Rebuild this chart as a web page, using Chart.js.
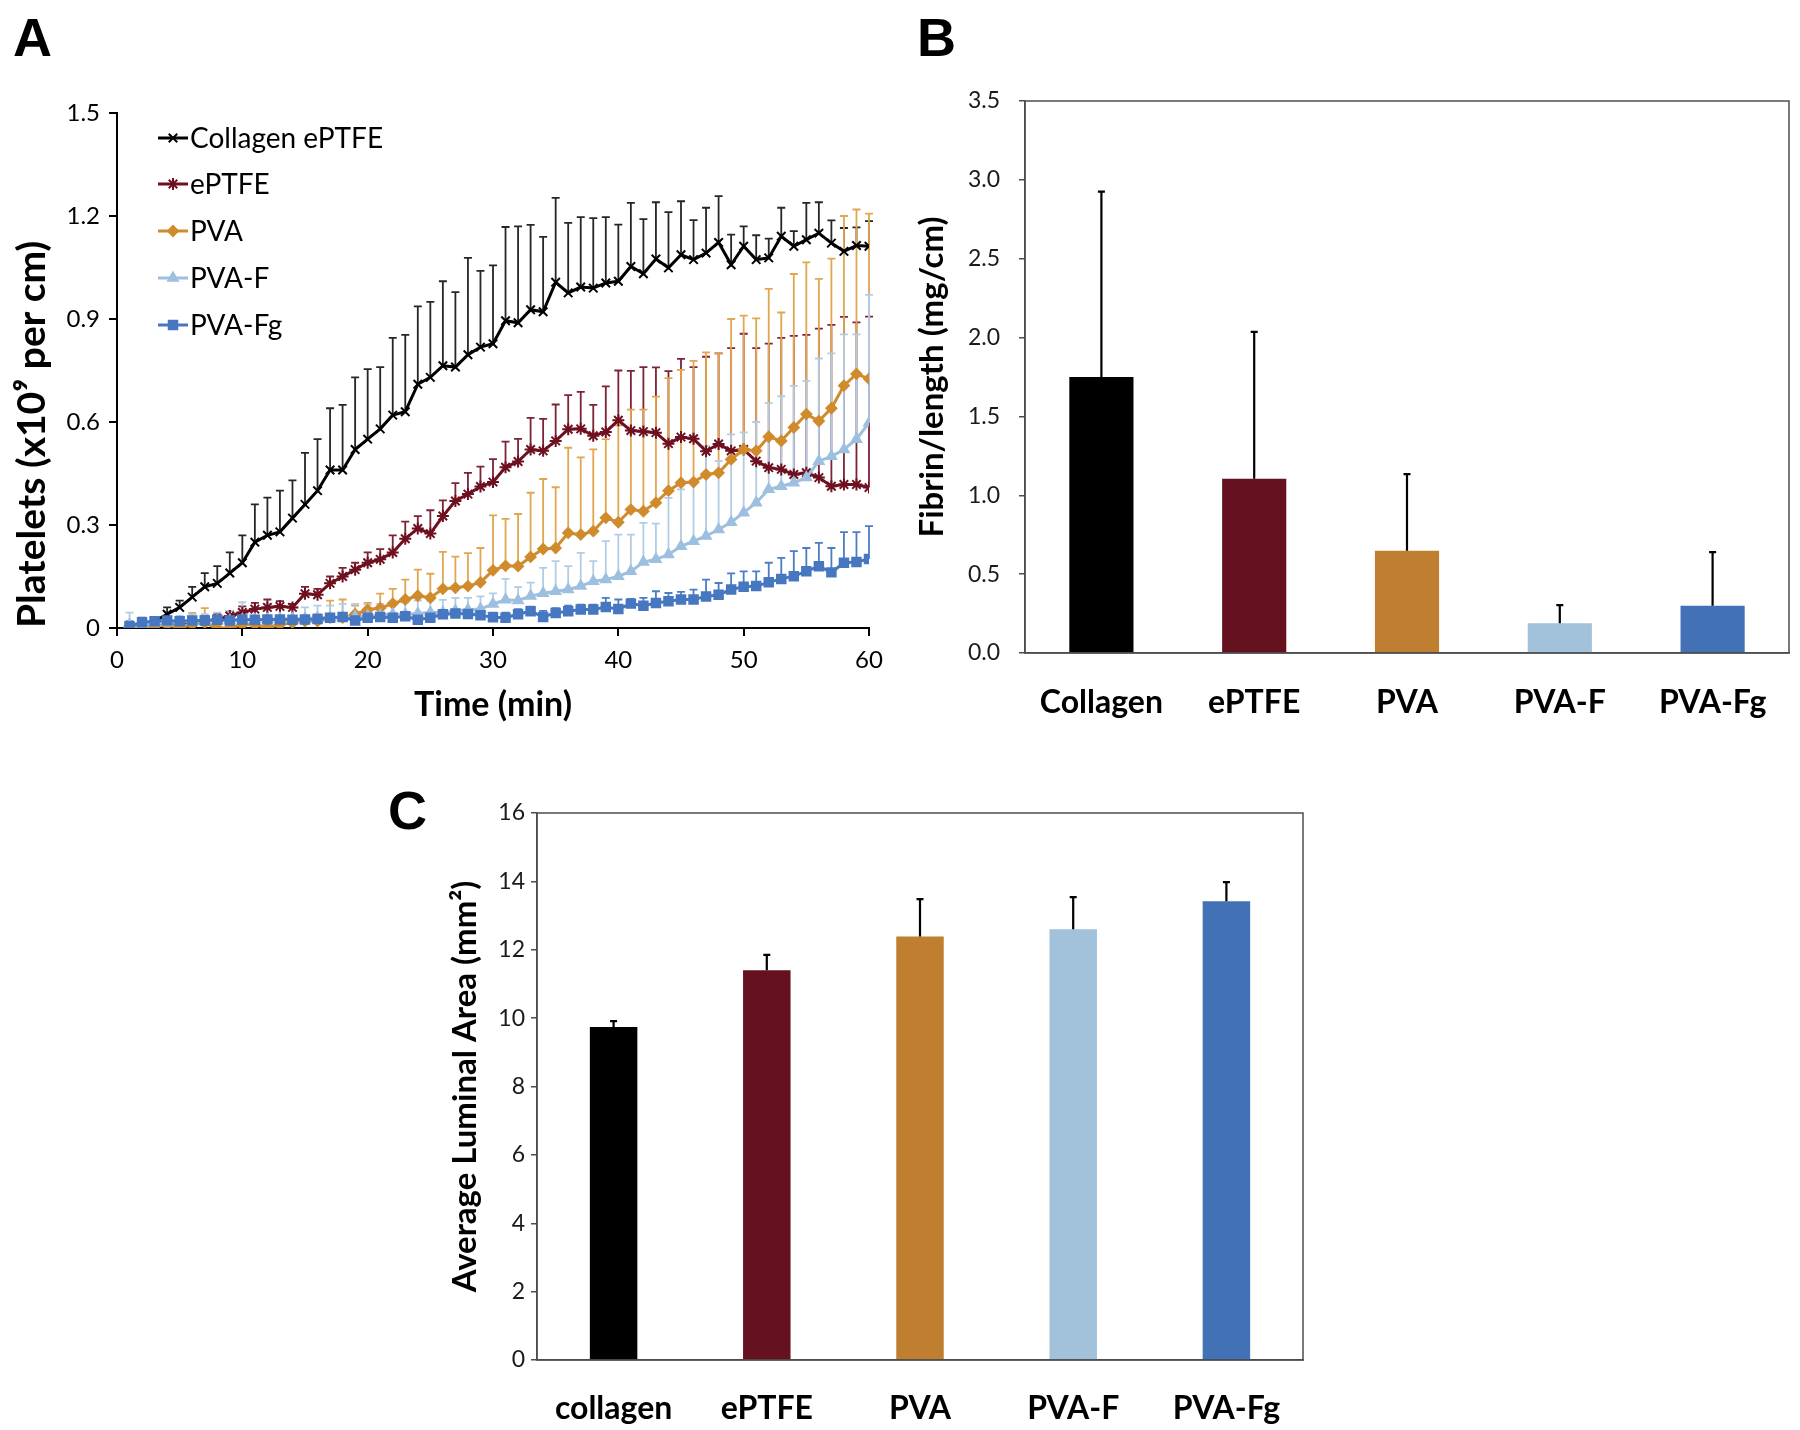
<!DOCTYPE html>
<html lang="en">
<head>
<meta charset="UTF-8" />
<title>Platelet, fibrin and luminal area</title>
<script src="https://cdn.jsdelivr.net/npm/chart.js"></script>
<style>
    html, body { margin: 0; padding: 0; background: #fff; }
    #fig { position: relative; width: 1800px; height: 1430px; overflow: hidden; }
    #fig canvas { position: absolute; }
    .tag {
        position: absolute;
        font-family: "Liberation Sans", Arial, sans-serif;
        font-weight: bold;
        font-size: 54px;
        line-height: 1;
        color: #000;
    }
</style>
</head>
<body>
<div id="fig">
    <div class="tag" style="left:13px; top:10px;">A</div>
    <div class="tag" style="left:917px; top:10px;">B</div>
    <div class="tag" style="left:388px; top:783px;">C</div>
    <canvas id="chartA" width="900" height="740" style="left:0; top:0;"></canvas>
    <canvas id="chartB" width="900" height="740" style="left:900px; top:0;"></canvas>
    <canvas id="chartC" width="940" height="670" style="left:380px; top:760px;"></canvas>
</div>

<script>
// ---- panel A: platelet accumulation over time ----
const minutes = [1, 2, 3, 4, 5, 6, 7, 8, 9, 10, 11, 12, 13, 14, 15, 16, 17, 18, 19, 20,
    21, 22, 23, 24, 25, 26, 27, 28, 29, 30, 31, 32, 33, 34, 35, 36, 37, 38, 39, 40,
    41, 42, 43, 44, 45, 46, 47, 48, 49, 50, 51, 52, 53, 54, 55, 56, 57, 58, 59, 60];
const timeTicks = [0, 10, 20, 30, 40, 50, 60];
const plateletTicks = [0, 0.3, 0.6, 0.9, 1.2, 1.5];

const collagenMean = [0.005, 0.01, 0.02, 0.04, 0.06, 0.09, 0.12, 0.13, 0.16, 0.19,
    0.25, 0.27, 0.28, 0.32, 0.36, 0.40, 0.46, 0.46, 0.52, 0.55,
    0.58, 0.62, 0.63, 0.71, 0.73, 0.764, 0.76, 0.796, 0.818, 0.828,
    0.895, 0.889, 0.927, 0.921, 1.007, 0.976, 0.993, 0.99, 1.005, 1.01,
    1.053, 1.032, 1.075, 1.049, 1.087, 1.073, 1.092, 1.123, 1.058, 1.112,
    1.073, 1.078, 1.141, 1.112, 1.131, 1.15, 1.121, 1.097, 1.114, 1.112];
const collagenUpper = [0.01, 0.02, 0.03, 0.06, 0.08, 0.12, 0.16, 0.18, 0.22, 0.27,
    0.36, 0.38, 0.40, 0.43, 0.51, 0.55, 0.64, 0.65, 0.73, 0.754,
    0.76, 0.845, 0.854, 0.937, 0.95, 1.01, 0.978, 1.078, 1.04, 1.056,
    1.168, 1.17, 1.174, 1.139, 1.253, 1.18, 1.197, 1.194, 1.197, 1.175,
    1.238, 1.191, 1.24, 1.211, 1.243, 1.188, 1.224, 1.258, 1.146, 1.17,
    1.144, 1.134, 1.224, 1.156, 1.238, 1.24, 1.187, 1.165, 1.167, 1.185];

const eptfeMean = [0.0, 0.0, 0.005, 0.01, 0.01, 0.015, 0.02, 0.025, 0.035, 0.045,
    0.055, 0.06, 0.063, 0.06, 0.10, 0.097, 0.13, 0.15, 0.17, 0.19,
    0.20, 0.22, 0.26, 0.29, 0.275, 0.326, 0.37, 0.39, 0.412, 0.425,
    0.468, 0.485, 0.52, 0.516, 0.545, 0.579, 0.58, 0.56, 0.571, 0.605,
    0.575, 0.572, 0.569, 0.537, 0.556, 0.551, 0.515, 0.536, 0.516, 0.52,
    0.486, 0.467, 0.462, 0.447, 0.452, 0.438, 0.413, 0.418, 0.418, 0.409];
const eptfeUpper = [0.01, 0.01, 0.015, 0.02, 0.025, 0.03, 0.035, 0.04, 0.05, 0.063,
    0.073, 0.083, 0.078, 0.07, 0.12, 0.114, 0.15, 0.175, 0.19, 0.22,
    0.23, 0.27, 0.31, 0.326, 0.343, 0.372, 0.422, 0.452, 0.47, 0.492,
    0.543, 0.551, 0.612, 0.609, 0.651, 0.678, 0.688, 0.65, 0.704, 0.75,
    0.749, 0.76, 0.759, 0.748, 0.784, 0.76, 0.79, 0.80, 0.815, 0.857,
    0.815, 0.828, 0.845, 0.851, 0.854, 0.872, 0.883, 0.906, 0.89, 0.907];

const pvaMean = [0.005, 0.0, 0.005, 0.01, 0.0, 0.01, 0.015, 0.0, 0.0, 0.01,
    0.01, 0.0, 0.01, 0.015, 0.02, 0.02, 0.03, 0.03, 0.04, 0.053,
    0.058, 0.071, 0.083, 0.094, 0.088, 0.114, 0.117, 0.122, 0.133, 0.168,
    0.181, 0.18, 0.207, 0.23, 0.233, 0.277, 0.272, 0.282, 0.321, 0.308,
    0.345, 0.34, 0.365, 0.40, 0.423, 0.425, 0.447, 0.452, 0.491, 0.52,
    0.516, 0.557, 0.545, 0.584, 0.623, 0.603, 0.64, 0.706, 0.74, 0.726];
const pvaUpper = [0.01, 0.015, 0.02, 0.02, 0.02, 0.044, 0.058, 0.01, 0.01, 0.03,
    0.03, 0.02, 0.03, 0.03, 0.035, 0.04, 0.08, 0.083, 0.065, 0.073,
    0.10, 0.114, 0.141, 0.17, 0.158, 0.222, 0.208, 0.218, 0.233, 0.328,
    0.318, 0.332, 0.394, 0.434, 0.41, 0.525, 0.497, 0.52, 0.55, 0.59,
    0.636, 0.636, 0.674, 0.728, 0.752, 0.778, 0.803, 0.80, 0.90, 0.91,
    0.902, 0.988, 0.919, 1.031, 1.065, 1.017, 1.076, 1.20, 1.219, 1.207];

const pvafMean = [0.01, 0.012, 0.015, 0.015, 0.018, 0.02, 0.02, 0.022, 0.022, 0.025,
    0.025, 0.025, 0.027, 0.027, 0.028, 0.03, 0.03, 0.032, 0.033, 0.035,
    0.037, 0.04, 0.04, 0.042, 0.045, 0.045, 0.05, 0.053, 0.055, 0.07,
    0.082, 0.08, 0.093, 0.101, 0.107, 0.112, 0.122, 0.136, 0.141, 0.151,
    0.165, 0.192, 0.20, 0.214, 0.238, 0.253, 0.268, 0.287, 0.308, 0.336,
    0.365, 0.404, 0.413, 0.423, 0.438, 0.486, 0.50, 0.52, 0.55, 0.598];
const pvafUpper = [0.045, 0.03, 0.03, 0.03, 0.035, 0.04, 0.04, 0.045, 0.05, 0.075,
    0.06, 0.07, 0.06, 0.06, 0.06, 0.065, 0.065, 0.07, 0.07, 0.068,
    0.07, 0.075, 0.075, 0.08, 0.08, 0.082, 0.088, 0.088, 0.092, 0.101,
    0.143, 0.119, 0.132, 0.175, 0.195, 0.18, 0.219, 0.195, 0.253, 0.272,
    0.272, 0.306, 0.304, 0.379, 0.404, 0.428, 0.53, 0.486, 0.564, 0.57,
    0.60, 0.655, 0.675, 0.705, 0.72, 0.785, 0.80, 0.855, 0.855, 0.97];

const pvafgMean = [0.005, 0.017, 0.02, 0.022, 0.02, 0.022, 0.022, 0.024, 0.022, 0.025,
    0.024, 0.025, 0.025, 0.024, 0.025, 0.026, 0.03, 0.032, 0.022, 0.03,
    0.032, 0.03, 0.034, 0.024, 0.03, 0.04, 0.042, 0.041, 0.037, 0.031,
    0.03, 0.04, 0.049, 0.032, 0.044, 0.049, 0.054, 0.054, 0.061, 0.055,
    0.071, 0.065, 0.073, 0.078, 0.083, 0.083, 0.092, 0.097, 0.112, 0.12,
    0.122, 0.133, 0.143, 0.151, 0.165, 0.18, 0.162, 0.19, 0.192, 0.201];
const pvafgUpper = [0.02, 0.03, 0.03, 0.032, 0.03, 0.032, 0.032, 0.034, 0.032, 0.035,
    0.034, 0.035, 0.035, 0.034, 0.035, 0.036, 0.04, 0.042, 0.032, 0.04,
    0.042, 0.04, 0.044, 0.034, 0.04, 0.05, 0.052, 0.051, 0.047, 0.045,
    0.045, 0.055, 0.062, 0.05, 0.058, 0.065, 0.068, 0.068, 0.088, 0.083,
    0.085, 0.088, 0.107, 0.102, 0.105, 0.112, 0.141, 0.131, 0.159, 0.165,
    0.165, 0.19, 0.204, 0.224, 0.233, 0.248, 0.233, 0.279, 0.279, 0.297];

// ---- panel B: fibrin per length ----
const fibrinCategories = ["Collagen", "ePTFE", "PVA", "PVA-F", "PVA-Fg"];
const fibrinMean = [1.75, 1.105, 0.648, 0.188, 0.30];
const fibrinUpper = [2.925, 2.036, 1.134, 0.304, 0.64];
const fibrinTicks = [0, 0.5, 1.0, 1.5, 2.0, 2.5, 3.0, 3.5];

// ---- panel C: average luminal area ----
const lumenCategories = ["collagen", "ePTFE", "PVA", "PVA-F", "PVA-Fg"];
const lumenMean = [9.74, 11.40, 12.39, 12.60, 13.42];
const lumenUpper = [9.91, 11.85, 13.48, 13.54, 13.98];
const lumenTicks = [0, 2, 4, 6, 8, 10, 12, 14, 16];

const groupColors = ["#000000", "#651120", "#C07F30", "#A2C1DB", "#4272B5"];

Chart.defaults.font.family = "Lato, 'Open Sans', sans-serif";
Chart.defaults.color = "#000";

function pairs(values) {
    return minutes.map((m, i) => ({ x: m, y: values[i] }));
}

// vertical (upper only) error bars under the lines, drawn in series order
const lineErrorBars = {
    id: "lineErrorBars",
    beforeDatasetsDraw(chart) {
        const ctx = chart.ctx;
        const yScale = chart.scales.y;
        ctx.save();
        chart.data.datasets.forEach((ds, i) => {
            const meta = chart.getDatasetMeta(i);
            ctx.strokeStyle = ds.errorColor;
            ctx.lineWidth = 1.8;
            meta.data.forEach((pt, j) => {
                const top = yScale.getPixelForValue(ds.upper[j]);
                ctx.beginPath();
                ctx.moveTo(pt.x, pt.y);
                ctx.lineTo(pt.x, top);
                ctx.moveTo(pt.x - 4, top);
                ctx.lineTo(pt.x + 4, top);
                ctx.stroke();
            });
        });
        ctx.restore();
    }
};

// legend drawn inside the plot, top-left, like the original
const insideLegend = {
    id: "insideLegend",
    afterDraw(chart) {
        const ctx = chart.ctx;
        const rowY = [138, 184, 231, 278, 325];
        ctx.save();
        chart.data.datasets.forEach((ds, i) => {
            const y = rowY[i];
            ctx.strokeStyle = ds.borderColor;
            ctx.lineWidth = 3;
            ctx.beginPath();
            ctx.moveTo(158, y);
            ctx.lineTo(188, y);
            ctx.stroke();
            ctx.fillStyle = ds.pointBackgroundColor;
            ctx.strokeStyle = ds.pointBorderColor;
            ctx.lineWidth = ds.pointBorderWidth;
            Chart.helpers.drawPoint(ctx, {
                pointStyle: ds.pointStyle,
                radius: ds.pointRadius,
                rotation: 0,
                borderWidth: ds.pointBorderWidth
            }, 173, y);
            ctx.fillStyle = "#000";
            ctx.font = "28px Lato, sans-serif";
            ctx.textBaseline = "middle";
            ctx.textAlign = "left";
            ctx.fillText(ds.label, 190, y + 1);
        });
        ctx.restore();
    }
};

function lineSeries(label, mean, upper, color, errorColor, style, radius, order) {
    return {
        label: label,
        data: pairs(mean),
        upper: upper,
        errorColor: errorColor,
        borderColor: color,
        borderWidth: 3,
        pointStyle: style,
        pointRadius: radius,
        pointBackgroundColor: color,
        pointBorderColor: color,
        pointBorderWidth: 2,
        tension: 0,
        order: order
    };
}

new Chart(document.getElementById("chartA"), {
    type: "line",
    data: {
        datasets: [
            lineSeries("Collagen ePTFE", collagenMean, collagenUpper, "#000000", "#262626", "crossRot", 6, 5),
            lineSeries("ePTFE", eptfeMean, eptfeUpper, "#6E1020", "#7E2236", "star", 6, 4),
            lineSeries("PVA", pvaMean, pvaUpper, "#D08B2C", "#E2A650", "rectRot", 5, 3),
            lineSeries("PVA-F", pvafMean, pvafUpper, "#9DBFE0", "#B2CCE6", "triangle", 5.5, 2),
            lineSeries("PVA-Fg", pvafgMean, pvafgUpper, "#4677C0", "#4B7DC4", "rect", 6, 1)
        ]
    },
    options: {
        responsive: false,
        animation: false,
        layout: { padding: { top: 113, right: 31, bottom: 0, left: 0 } },
        plugins: { legend: { display: false }, tooltip: { enabled: false } },
        scales: {
            x: {
                type: "linear",
                min: 0,
                max: 60,
                afterBuildTicks: (s) => { s.ticks = timeTicks.map((v) => ({ value: v })); },
                afterFit: (s) => { s.height = 112; },
                ticks: { font: { size: 24 }, color: "#000", padding: 10, maxRotation: 0 },
                grid: { drawOnChartArea: false, tickLength: 8, color: "#000", lineWidth: 2 },
                border: { color: "#000", width: 2 },
                title: {
                    display: true,
                    text: "Time (min)",
                    font: { size: 34, weight: "bold" },
                    padding: { top: 0, bottom: 15 }
                }
            },
            y: {
                min: 0,
                max: 1.5,
                afterBuildTicks: (s) => { s.ticks = plateletTicks.map((v) => ({ value: v })); },
                afterFit: (s) => { s.width = 117; },
                ticks: {
                    font: { size: 24 },
                    color: "#000",
                    padding: 9,
                    callback: (v) => (v === 0 ? "0" : v.toFixed(1))
                },
                grid: { drawOnChartArea: false, tickLength: 8, color: "#000", lineWidth: 2 },
                border: { color: "#000", width: 2 },
                title: {
                    display: true,
                    align: "start",
                    text: "Platelets (x10\u2079 per cm)",
                    font: { size: 39, weight: "bold" },
                    padding: { top: 9, bottom: 0 }
                }
            }
        }
    },
    plugins: [lineErrorBars, insideLegend]
});

// bar error bars plus the plot frame
const barErrorBars = {
    id: "barErrorBars",
    afterDatasetsDraw(chart) {
        const ctx = chart.ctx;
        const ds = chart.data.datasets[0];
        const meta = chart.getDatasetMeta(0);
        const yScale = chart.scales.y;
        ctx.save();
        ctx.strokeStyle = "#000";
        ctx.lineWidth = 2.2;
        meta.data.forEach((bar, i) => {
            const top = yScale.getPixelForValue(ds.upper[i]);
            ctx.beginPath();
            ctx.moveTo(bar.x, bar.y);
            ctx.lineTo(bar.x, top);
            ctx.moveTo(bar.x - 3.5, top);
            ctx.lineTo(bar.x + 3.5, top);
            ctx.stroke();
        });
        const a = chart.chartArea;
        ctx.strokeStyle = "#4d4d4d";
        ctx.lineWidth = 1.5;
        ctx.strokeRect(a.left, a.top, a.right - a.left, a.bottom - a.top);
        ctx.restore();
    }
};

function barChart(canvasId, cats, mean, upper, ticks, fmt, title, box) {
    return new Chart(document.getElementById(canvasId), {
        type: "bar",
        data: {
            labels: cats,
            datasets: [{
                data: mean,
                upper: upper,
                backgroundColor: groupColors,
                borderWidth: 0,
                categoryPercentage: 1.0,
                barPercentage: box.barPct
            }]
        },
        options: {
            responsive: false,
            animation: false,
            layout: { padding: { top: box.top, right: box.right, bottom: 0, left: 0 } },
            plugins: { legend: { display: false }, tooltip: { enabled: false } },
            scales: {
                x: {
                    afterFit: (s) => { s.height = box.xHeight; },
                    ticks: { font: { size: 32, weight: "bold" }, color: "#000", padding: box.catPad, maxRotation: 0 },
                    grid: { display: false },
                    border: { color: "#4d4d4d", width: 1.5 }
                },
                y: {
                    min: 0,
                    max: ticks[ticks.length - 1],
                    afterBuildTicks: (s) => { s.ticks = ticks.map((v) => ({ value: v })); },
                    afterFit: (s) => { s.width = box.yWidth; },
                    ticks: { font: { size: 23 }, color: "#1a1a1a", padding: box.tickPad, callback: fmt },
                    grid: { drawOnChartArea: false, tickLength: 6, color: "#4d4d4d", lineWidth: 1.5 },
                    border: { color: "#4d4d4d", width: 1.5 },
                    title: {
                        display: true,
                        text: title,
                        font: { size: 33, weight: "bold" },
                        padding: { top: box.titlePad, bottom: 0 }
                    }
                }
            }
        },
        plugins: [barErrorBars]
    });
}

barChart("chartB", fibrinCategories, fibrinMean, fibrinUpper, fibrinTicks,
    (v) => v.toFixed(1), "Fibrin/length (mg/cm)",
    { top: 101, right: 11, xHeight: 87, yWidth: 125, tickPad: 19, titlePad: 13, catPad: 22, barPct: 0.42 });

barChart("chartC", lumenCategories, lumenMean, lumenUpper, lumenTicks,
    (v) => String(v), "Average Luminal Area (mm\u00b2)",
    { top: 53, right: 17, xHeight: 70, yWidth: 157, tickPad: 6, titlePad: 66, catPad: 21, barPct: 0.31 });
</script>
</body>
</html>
